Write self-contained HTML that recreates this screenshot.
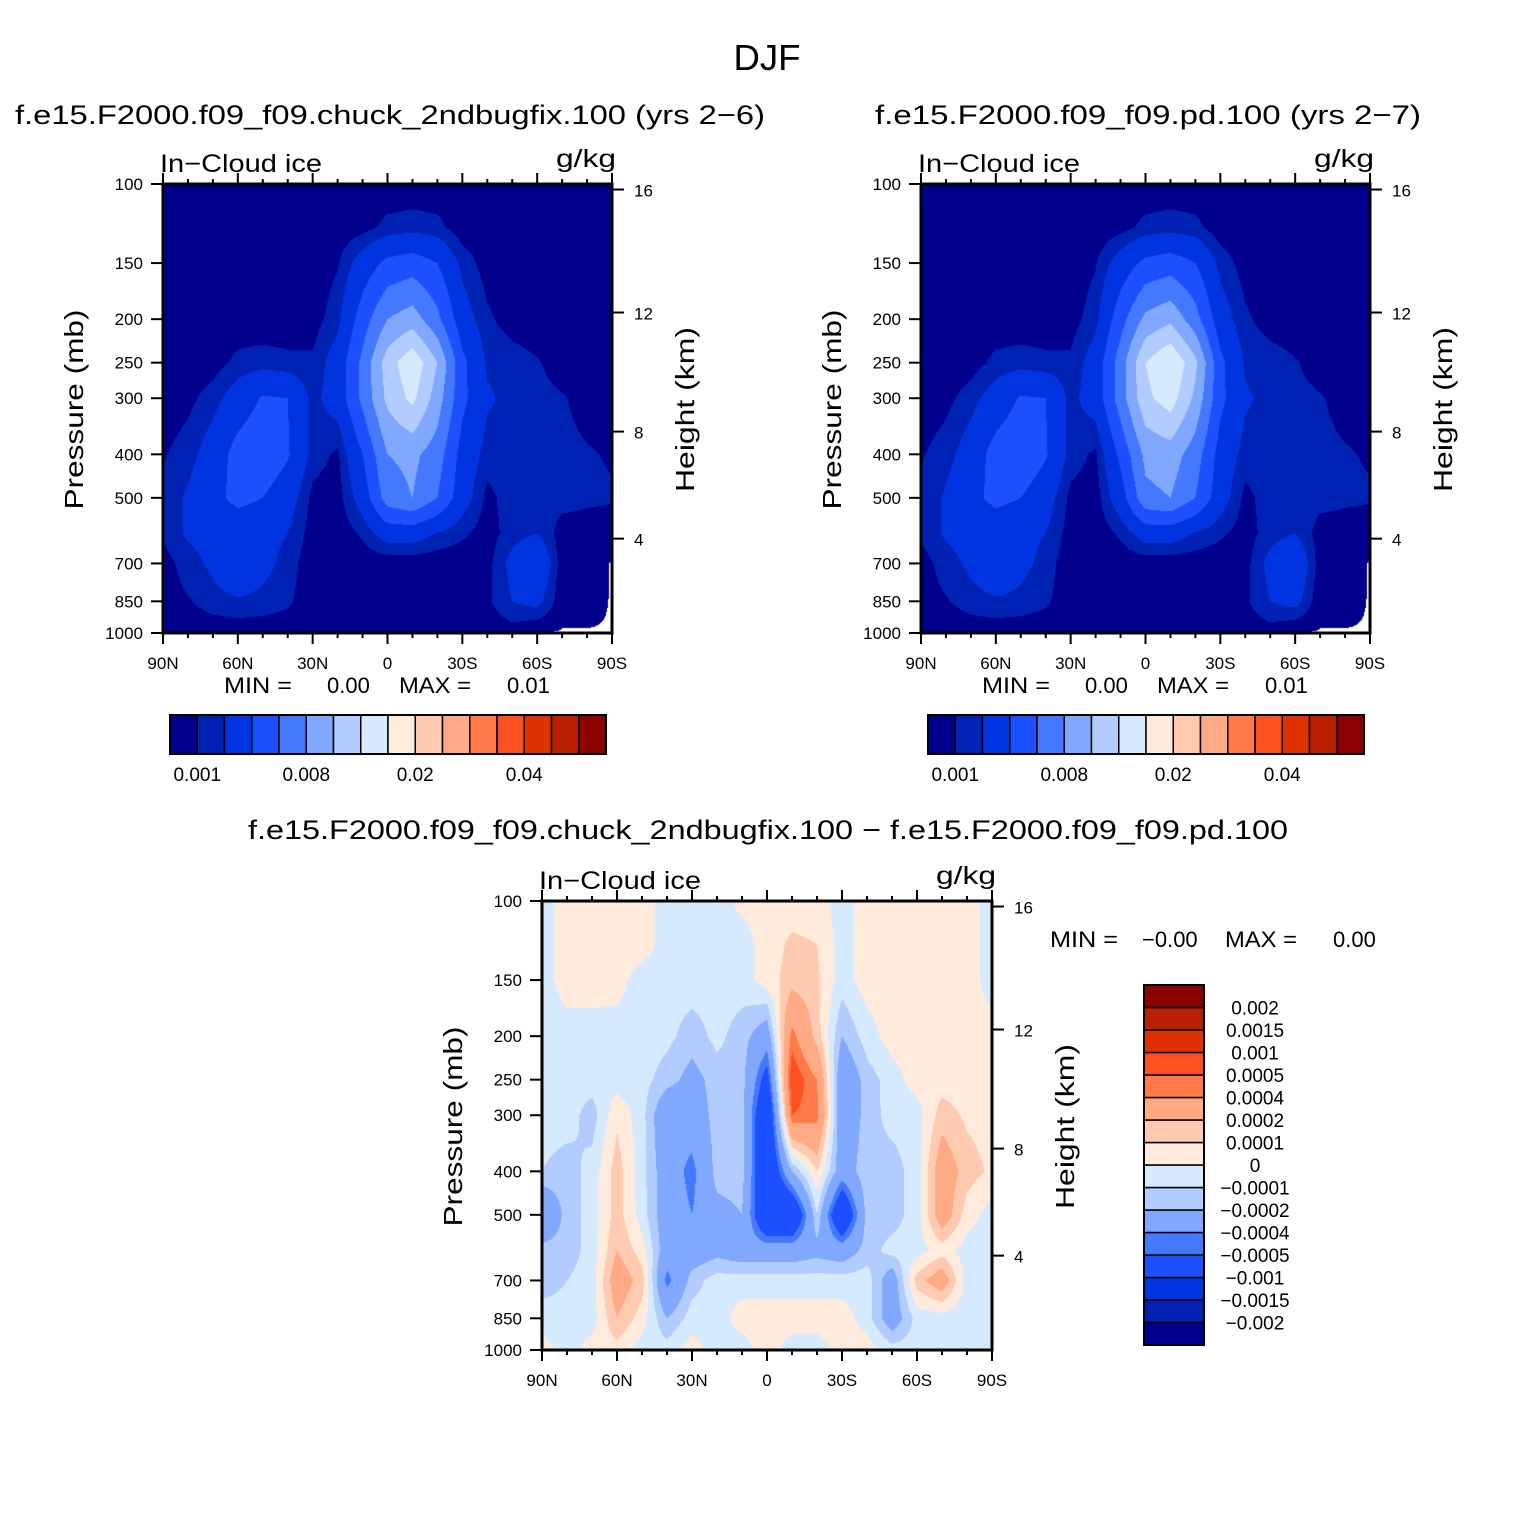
<!DOCTYPE html>
<html><head><meta charset="utf-8">
<style>
html,body{margin:0;padding:0;background:#fff;}
#root{position:relative;width:1535px;height:1533px;overflow:hidden;font-family:"Liberation Sans",sans-serif;}
canvas{position:absolute;}
svg{position:absolute;left:0;top:0;}
</style></head>
<body>
<div id="root">
<canvas id="c1" width="449" height="449" style="left:163px;top:184px"></canvas>
<canvas id="c2" width="449" height="449" style="left:921px;top:184px"></canvas>
<canvas id="c3" width="450" height="449" style="left:542px;top:901px"></canvas>
<svg id="ov" width="1535" height="1533"></svg>
</div>
<script>
// ---------- data ----------
const lats = [90,80,70,60,50,40,30,20,10,0,-10,-20,-30,-40,-50,-60,-70,-80,-90];
const pressures = [100,125,150,200,250,300,400,500,600,700,850,1000];
const pressureTicks = [100,150,200,250,300,400,500,700,850,1000];
const heightTicksKm = [4,8,12,16];
const latTickLabels = ["90N","60N","30N","0","30S","60S","90S"];
// ice fields in units of 0.001 g/kg; null = below ground
const iceChuck = [
[0.3,0.3,0.3,0.3,0.3,0.3,0.3,0.3,0.3,0.3,0.3,0.3,0.3,0.3,0.3,0.3,0.3,0.3,0.3],
[0.3,0.3,0.3,0.3,0.3,0.3,0.3,0.3,0.6,1.3,1.5,1.3,0.4,0.3,0.3,0.3,0.3,0.3,0.3],
[0.3,0.3,0.3,0.3,0.3,0.3,0.3,0.9,2.8,4.5,5,4,1.6,0.5,0.3,0.3,0.3,0.3,0.3],
[0.3,0.3,0.3,0.3,0.3,0.3,0.5,1.6,5,8,9,6.5,2.8,1.2,0.5,0.3,0.3,0.3,0.3],
[0.3,0.3,0.5,1.3,1.5,1.3,1.2,2.8,6.5,11,13.5,10,4.5,1.8,1.5,1.1,0.5,0.3,0.3],
[0.3,0.7,1.5,2.8,4.2,4,1.6,2.8,6.5,10.5,12.5,9,4.5,2.2,1.6,1.3,1.1,0.6,0.3],
[0.9,1.5,2.8,4.8,5.5,4.2,1.5,0.8,4,8,8.5,7,3.2,1.5,1.6,1.5,1.3,1.1,0.9],
[1.2,2.2,3.5,4.5,4,2.8,0.7,0.5,2.8,7,8,6,2.8,0.7,1.5,1.5,1.4,1.2,1.1],
[1.2,2.2,2.5,2.8,2.6,2,0.5,0.3,1.2,2.8,2.8,1.9,1.2,0.5,1.5,2,0.5,0.5,0.5],
[0.5,1.5,2.3,3.8,2.5,1.5,0.3,0.3,0.3,0.3,0.3,0.3,0.3,0.6,2.5,3.8,0.4,0.4,null],
[0.5,0.9,1.5,1.8,1.6,1.2,0.3,0.3,0.3,0.3,0.3,0.3,0.3,0.8,2,2.5,0.3,0.3,null],
[0.3,0.3,0.3,0.3,0.3,0.3,0.3,0.3,0.3,0.3,0.3,0.3,0.3,0.3,0.5,null,null,null,null]
];
const icePd = [
[0.3,0.3,0.3,0.3,0.3,0.3,0.3,0.3,0.3,0.3,0.3,0.3,0.3,0.3,0.3,0.3,0.3,0.3,0.3],
[0.3,0.3,0.3,0.3,0.3,0.3,0.3,0.3,0.6,1.3,1.5,1.3,0.4,0.3,0.3,0.3,0.3,0.3,0.3],
[0.3,0.3,0.3,0.3,0.3,0.3,0.3,0.9,2.8,4.5,5,4,1.6,0.5,0.3,0.3,0.3,0.3,0.3],
[0.3,0.3,0.3,0.3,0.3,0.3,0.5,1.6,5.2,8.5,9.5,6.8,2.8,1.2,0.5,0.3,0.3,0.3,0.3],
[0.3,0.3,0.5,1.3,1.5,1.3,1.2,2.8,7,12,14,10.5,4.5,1.8,1.5,1.1,0.5,0.3,0.3],
[0.3,0.7,1.5,2.8,4.2,4,1.6,2.8,7,11.5,13,9.5,4.5,2.2,1.6,1.3,1.1,0.6,0.3],
[0.9,1.5,2.8,4.8,5.5,4.2,1.5,0.8,4.5,8.5,9,7,3.2,1.5,1.6,1.8,1.3,1.1,0.9],
[1.2,2.2,3.5,4.5,4,2.8,0.7,0.5,3,7.5,8,6,2.8,0.7,1.5,1.5,1.4,1.2,1.1],
[1.2,2.2,2.5,2.8,2.6,2,0.5,0.3,1.2,2.8,2.8,1.9,1.2,0.5,1.5,2,0.5,0.5,0.5],
[0.5,1.5,2.3,3.5,2.5,1.5,0.3,0.3,0.3,0.3,0.3,0.3,0.3,0.6,2.5,3.8,0.4,0.4,null],
[0.5,0.9,1.5,1.8,1.6,1.2,0.3,0.3,0.3,0.3,0.3,0.3,0.3,0.8,2,2.5,0.3,0.3,null],
[0.3,0.3,0.3,0.3,0.3,0.3,0.3,0.3,0.3,0.3,0.3,0.3,0.3,0.3,0.5,null,null,null,null]
];
// difference in units of 0.0001 g/kg
const iceDiff = [
[-0.5,0.5,0.5,0.5,0.5,-0.5,-0.5,-0.5,0.3,0.5,0.5,0.5,-0.5,0.5,0.5,0.5,0.5,0.5,-0.5],
[-0.5,0.5,0.5,0.5,0.5,-0.5,-0.5,-0.5,-0.5,0.5,1.2,1,-0.5,0.5,0.5,0.5,0.5,0.5,-0.5],
[-0.5,0.5,0.5,0.4,-0.5,-0.5,-0.5,-0.5,-0.5,0.5,1.5,1.2,-0.5,0.5,0.5,0.5,0.5,0.5,-0.5],
[-0.5,-0.5,-0.5,-0.5,-0.5,-0.7,-1.5,-0.7,-1.5,-3,4.5,1.5,-2,-0.5,0.5,0.5,0.5,0.5,0.5],
[-0.5,-0.5,-0.5,-0.5,-0.6,-1.5,-2.5,-1.5,-1.5,-6,6,4,-3.5,-1.5,-0.5,0.5,0.5,0.5,0.5],
[-0.5,-0.5,-1.5,0.8,-0.6,-3.5,-3,-1.5,-1.5,-8,5,4.5,-3.5,-1.5,-0.6,-0.5,1.5,0.8,0.5],
[-1,-1.5,-0.6,1.5,-0.6,-3,-4.5,-1.5,-1.5,-8,-2,1,-3,-1.2,-1.5,-0.5,3,1.5,0.8],
[-4,-1.5,-0.6,1.5,-0.5,-3,-4,-2.5,-2,-8,-8,-1,-8,-1.5,-1.5,-0.5,3,0.5,-0.5],
[-1.5,-1.5,-0.6,2,0.5,-3,-3,-2.5,-3,-3,-3,-2.5,-3,-1.5,-0.6,-0.5,0.5,-0.5,-0.5],
[-1.5,-1,-0.5,3,1.5,-4.5,-1.5,-0.5,-0.5,-0.5,-0.5,-0.5,-0.5,-0.5,-3,1.5,3,-0.5,-0.5],
[-0.5,-0.6,-0.5,2,0.5,-2,-0.5,-0.5,0.5,0.5,0.5,0.5,0.5,-0.5,-3,-0.6,-0.5,-0.5,-0.5],
[0.5,-0.5,0.5,0.5,-0.5,-0.5,0.5,-0.5,-0.5,0.5,-0.5,-0.5,0.5,0.5,-0.5,-0.5,-0.5,-0.5,-0.5]
];
const iceLevels = [1,2,4,6,8,10,12,15,20,25,30,35,40,45,50];
const iceBarLabels = ["0.001","0.008","0.02","0.04"];
const iceBarLabelIdx = [1,5,9,13];
const diffLevels = [-20,-15,-10,-5,-4,-2,-1,0,1,2,4,5,10,15,20];
const diffBarLabels = ["0.002","0.0015","0.001","0.0005","0.0004","0.0002","0.0001","0","\u22120.0001","\u22120.0002","\u22120.0004","\u22120.0005","\u22120.001","\u22120.0015","\u22120.002"];
const palette = ["#00008c","#0022b4","#0034e0","#1c50ff","#4478ff","#80a8ff","#b2ccff","#d6eaff","#ffeadc","#ffcab0","#ffaa84","#ff7a48","#ff5020","#e03200","#b82000","#8b0000"];

// ---------- scales ----------
const PH = 449;
function yP(p){return (Math.log10(p)-2)*PH;}
function xLat(lat,w){return (90-lat)/180*w;}
function pOfZ(km){const z=km*1000; if(z<=11000) return 1013.25*Math.pow(1-2.2558e-5*z,5.256); return 226.32*Math.exp(-(z-11000)/6341.6);}

function drawField(id,field,levels){
  const cv=document.getElementById(id),ctx=cv.getContext('2d');
  const W=cv.width,H=cv.height,img=ctx.createImageData(W,H);
  const lp=pressures.map(p=>Math.log10(p));
  const rgb=palette.map(c=>[parseInt(c.substr(1,2),16),parseInt(c.substr(3,2),16),parseInt(c.substr(5,2),16)]);
  const val=(r,c)=>{const v=field[r][c];return v===null?-0.05:v;};
  for(let py=0;py<H;py++){
    const lg=2+(py+0.5)/H;
    let r=0; while(r<pressures.length-2 && lp[r+1]<lg) r++;
    const fy=(lg-lp[r])/(lp[r+1]-lp[r]);
    for(let px=0;px<W;px++){
      const lat=90-(px+0.5)/W*180;
      let c=Math.min(17,Math.floor((90-lat)/10)); const fx=((90-lat)-c*10)/10;
      const v=(val(r,c)*(1-fx)+val(r,c+1)*fx)*(1-fy)+(val(r+1,c)*(1-fx)+val(r+1,c+1)*fx)*fy;
      const o=(py*W+px)*4;
      const hasNull=field[r][c]===null||field[r][c+1]===null||field[r+1][c]===null||field[r+1][c+1]===null;
      if(hasNull && v<0){img.data[o]=255;img.data[o+1]=255;img.data[o+2]=255;img.data[o+3]=255;continue;}
      let k=0; while(k<levels.length && v>=levels[k]) k++;
      img.data[o]=rgb[k][0];img.data[o+1]=rgb[k][1];img.data[o+2]=rgb[k][2];img.data[o+3]=255;
    }
  }
  ctx.putImageData(img,0,0);
}
drawField('c1',iceChuck,iceLevels);
drawField('c2',icePd,iceLevels);
drawField('c3',iceDiff,diffLevels);

// ---------- svg overlay ----------
const NS="http://www.w3.org/2000/svg", svg=document.getElementById('ov');
function mk(tag,attrs,parent){const e=document.createElementNS(NS,tag);for(const k in attrs)e.setAttribute(k,attrs[k]);(parent||svg).appendChild(e);return e;}
function txt(x,y,s,size,anchor,parent,name,len){const t=mk('text',{x:x,y:y,'font-size':size,'text-anchor':anchor||'start','font-family':'Liberation Sans, sans-serif',fill:'#000'},parent);t.textContent=s;
if(len){t.setAttribute('textLength',len);t.setAttribute('lengthAdjust','spacingAndGlyphs');}


return t;}

txt(767,70,"DJF",36,'middle',null,'figure-title',67);

function axes(x0,y0,w,name){
  const g=mk('g',{});
  
  
  for(let lat=90;lat>=-90;lat-=10){
    const x=x0+xLat(lat,w), major=(lat%30===0);
    const L=major?11:5;
    mk('line',{x1:x,y1:y0+PH,x2:x,y2:y0+PH+L,stroke:'#000','stroke-width':2},g);
    mk('line',{x1:x,y1:y0,x2:x,y2:y0-L,stroke:'#000','stroke-width':2},g);
  }
  latTickLabels.forEach((s,i)=>{const x=x0+xLat(90-i*30,w);txt(x,y0+PH+36,s,17,'middle',g,'x-tick-label');});
  pressureTicks.forEach(p=>{const y=y0+yP(p);
    mk('line',{x1:x0-12,y1:y,x2:x0,y2:y,stroke:'#000','stroke-width':2},g);
    txt(x0-20,y+6,String(p),17,'end',g,'y-tick-label');});
  for(let km=2;km<=16;km+=2){const y=y0+yP(pOfZ(km)); if(y<y0) continue;
    const major=(km%4===0);
    mk('line',{x1:x0+w,y1:y,x2:x0+w+(major?12:0),y2:y,stroke:'#000','stroke-width':2},g);}
  heightTicksKm.forEach(km=>{const y=y0+yP(pOfZ(km));txt(x0+w+22,y+7,String(km),17,'start',g,'height-tick-label');});
  mk('rect',{x:x0,y:y0,width:w,height:PH,fill:'none',stroke:'#000','stroke-width':3},g);
  const yl=txt(0,0,"Pressure (mb)",26,'middle',g,'y-axis-title',200);yl.setAttribute('transform',`translate(${x0-80},${y0+PH/2+1}) rotate(-90)`);
  const yr=txt(0,0,"Height (km)",26,'middle',g,'y2-axis-title',165);yr.setAttribute('transform',`translate(${x0+w+82},${y0+PH/2+1}) rotate(-90)`);
  txt(x0-3,y0-12,"In\u2212Cloud ice",25,'start',g,'variable-label',162);
  txt(x0+w+4,y0-17,"g/kg",25,'end',g,'units-label',60);
}
axes(163,184,449,'axes-chuck');
axes(921,184,449,'axes-pd');
axes(542,901,450,'axes-diff');

txt(15,124,"f.e15.F2000.f09_f09.chuck_2ndbugfix.100 (yrs 2\u22126)",27,'start',null,'panel1-title',750);
txt(875,124,"f.e15.F2000.f09_f09.pd.100 (yrs 2\u22127)",27,'start',null,'panel2-title',546);
txt(248,839,"f.e15.F2000.f09_f09.chuck_2ndbugfix.100 \u2212 f.e15.F2000.f09_f09.pd.100",27,'start',null,'panel3-title',1040);

function minmax(x,y,mn,mx,name,dx){
  const g=mk('g',{});
  
  
  txt(x,y,"MIN =",22,'start',g,'min-label',68);
  txt(x+103+(dx||0),y,mn,22,'start',g,'min-value');
  txt(x+175,y,"MAX =",22,'start',g,'max-label',72);
  txt(x+283,y,mx,22,'start',g,'max-value');
}
minmax(224,693,"0.00","0.01",'minmax-chuck');
minmax(982,693,"0.00","0.01",'minmax-pd');
minmax(1050,947,"\u22120.00","0.00",'minmax-diff',-11);
function hbar(x0,y0,w,h,name){
  const g=mk('g',{});
  
  
  const bw=w/palette.length;
  palette.forEach((c,i)=>mk('rect',{x:x0+i*bw,y:y0,width:bw,height:h,fill:c,stroke:'#000','stroke-width':1.5},g));
  mk('rect',{x:x0,y:y0,width:w,height:h,fill:'none',stroke:'#000','stroke-width':2},g);
  iceBarLabels.forEach((s,i)=>txt(x0+iceBarLabelIdx[i]*bw,y0+h+27,s,19,'middle',g,'colorbar-label'));
}
hbar(170,715,436,39,'colorbar-chuck');
hbar(928,715,436,39,'colorbar-pd');

(function(){
  const g=mk('g',{});
  
  
  const x0=1144,y0=985,w=60,bh=22.5,n=palette.length;
  palette.forEach((c,i)=>mk('rect',{x:x0,y:y0+(n-1-i)*bh,width:w,height:bh,fill:c,stroke:'#000','stroke-width':1.5},g));
  mk('rect',{x:x0,y:y0,width:w,height:n*bh,fill:'none',stroke:'#000','stroke-width':2},g);
  diffBarLabels.forEach((s,i)=>txt(x0+w+51,y0+(i+1)*bh+7,s,19,'middle',g,'colorbar-label'));
})();
</script>
</body></html>
